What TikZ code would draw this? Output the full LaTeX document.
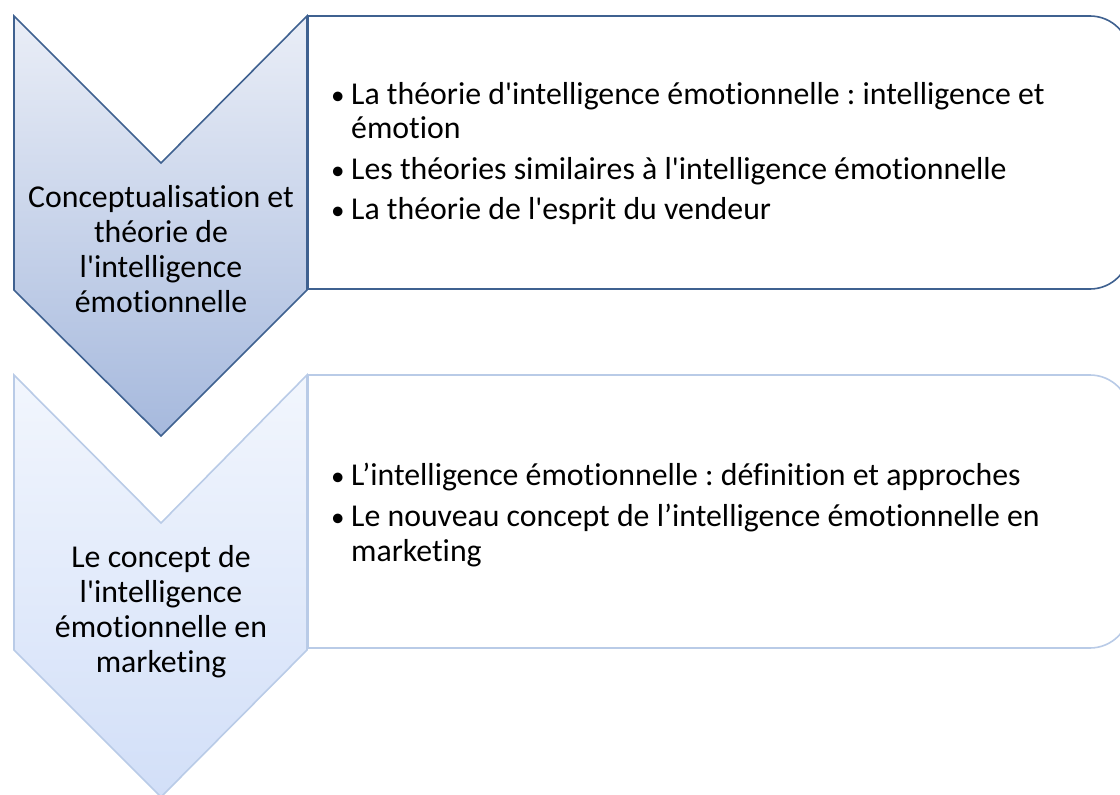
\documentclass[tikz,border=0pt]{standalone}
\usepackage{fontspec}
\setmainfont{Carlito}[Ligatures={TeXOff,NoCommon}]
\frenchspacing
\definecolor{darkedge}{HTML}{3F6190}
\definecolor{lightedge}{HTML}{B9CBE7}
\definecolor{cOneTop}{HTML}{EAEEF7}
\definecolor{cOneBot}{HTML}{A6B9DD}
\definecolor{cTwoTop}{HTML}{F2F6FD}
\definecolor{cTwoBot}{HTML}{D2DFF8}
\tikzset{
  chevtext/.style={font=\fontsize{31.8}{35}\selectfont, align=center, text=black, inner sep=0pt, anchor=base},
  boxtext/.style={font=\fontsize{31.8}{34.5}\selectfont, align=left, text=black, inner sep=0pt, anchor=base west},
  boxone/.style={draw=darkedge, line width=1.6pt, fill=white},
  boxtwo/.style={draw=lightedge, line width=1.6pt, fill=white},
  chevone/.style={draw=darkedge, line width=1.6pt, top color=cOneTop, bottom color=cOneBot},
  chevtwo/.style={draw=lightedge, line width=1.6pt, top color=cTwoTop, bottom color=cTwoBot},
}
\newcommand{\bul}{\makebox[19pt][l]{\hspace*{-1pt}\scalebox{0.85}{•}}}
\begin{document}
\begin{tikzpicture}[x=1pt,y=-1pt]
\useasboundingbox (0,0) rectangle (1120,795);
% boxes
\draw[boxone] (308,16) -- (1090,16) .. controls (1112,16) and (1130,34) .. (1130,56) -- (1130,249) .. controls (1130,271) and (1112,289) .. (1090,289) -- (308,289) -- cycle;
\draw[boxtwo] (308,375) -- (1090,375) .. controls (1112,375) and (1130,393) .. (1130,415) -- (1130,608) .. controls (1130,630) and (1112,648) .. (1090,648) -- (308,648) -- cycle;
% chevrons
\draw[chevtwo] (14,375) -- (161,523) -- (307,375) -- (307,650) -- (161,797) -- (14,650) -- cycle;
\draw[chevone] (14,16) -- (161,163) -- (307,16) -- (307,290) -- (161,436) -- (14,290) -- cycle;
% texts
\node[chevtext] (c1) at (161,312) {Conceptualisation et\\théorie de\\l'intelligence\\émotionnelle};
\node[chevtext] (c2) at (161,672) {Le concept de\\l'intelligence\\émotionnelle en\\marketing};
\node[boxtext] (t1) at (332,219) {\bul La théorie d'intelligence émotionnelle : intelligence et\\\hspace*{19pt}émotion\\[6pt]\bul Les théories similaires à l'intelligence émotionnelle\\[5.5pt]\bul La théorie de l'esprit du vendeur};
\node[boxtext] (t2) at (332,561) {\bul L’intelligence émotionnelle : définition et approches\\[7pt]\bul Le nouveau concept de l’intelligence émotionnelle en\\\hspace*{19pt}marketing};
\end{tikzpicture}
\end{document}
